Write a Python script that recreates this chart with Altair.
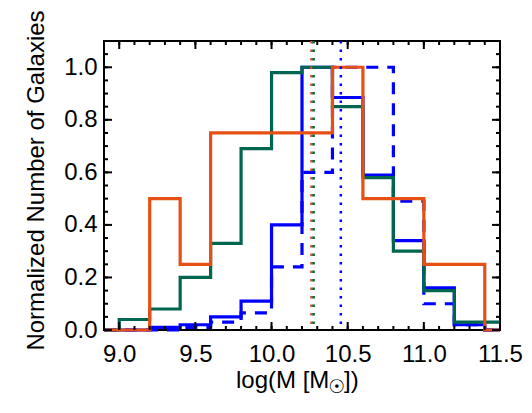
import altair as alt
import pandas as pd

# Bin edges (plot start, bins of 0.2 dex, plot end)
edges = [8.9, 9.0, 9.2, 9.4, 9.6, 9.8, 10.0, 10.2, 10.4, 10.6, 10.8, 11.0, 11.2, 11.4, 11.5]
green_vals = [0, 0.04, 0.08, 0.20, 0.33, 0.69, 0.98, 1.0, 0.85, 0.58, 0.30, 0.15, 0.03, 0.03, 0.03]
blue_vals = [0, 0, 0.01, 0.02, 0.05, 0.11, 0.40, 1.0, 0.885, 0.59, 0.34, 0.16, 0.02, 0, 0]
blue_dash_vals = [0, 0, 0, 0.01, 0.03, 0.065, 0.24, 0.60, 1.0, 1.0, 0.49, 0.10, 0.02, 0, 0]
orange_vals = [0, 0, 0.5, 0.25, 0.75, 0.75, 0.75, 0.75, 1.0, 0.5, 0.5, 0.25, 0.25, 0, 0]

median_names = ["orange", "green", "blue"]
median_vals = [10.262, 10.276, 10.455]

x_major = [9.0, 9.5, 10.0, 10.5, 11.0, 11.5]
x_minor = [round(8.9 + 0.1 * i, 1) for i in range(27)]
y_major = [0.0, 0.2, 0.4, 0.6, 0.8, 1.0]
y_minor = [round(0.05 * i, 2) for i in range(23)]

GREEN = "#00664F"
BLUE = "#0000FF"
ORANGE = "#E65014"
FONT = "Liberation Sans"

W, H = 396, 289
xs = alt.Scale(domain=[8.9, 11.5], nice=False, zero=False)
ys = alt.Scale(domain=[0, 1.1], nice=False, zero=False)

x_axis = alt.Axis(values=x_major, format=".1f", title=None, labelFlush=False,
                  labelOverlap=False, labelPadding=12, labelFontSize=24, labelFont=FONT,
                  labelColor="black", ticks=False, domain=False, grid=False)
y_axis = alt.Axis(values=y_major, format=".1f", title="Normalized Number of Galaxies",
                  labelFlush=False, labelOverlap=False, labelPadding=7, labelFontSize=24,
                  labelFont=FONT, labelColor="black", ticks=False, domain=False,
                  grid=False, titleFont=FONT, titleFontSize=24, titleFontWeight="normal",
                  titleColor="black", titleAngle=270, titleX=-61, titleY=139,
                  titleAlign="center", titleBaseline="alphabetic")


def hist(vals, color, dash=None):
    df = pd.DataFrame({"x": edges, "y": vals})
    kw = dict(interpolate="step-after", color=color, strokeWidth=3.2)
    if dash:
        kw["strokeDash"] = dash
    return alt.Chart(df).mark_line(**kw).encode(
        x=alt.X("x:Q", scale=xs, axis=x_axis),
        y=alt.Y("y:Q", scale=ys, axis=y_axis),
    )


layers = [
    hist(blue_dash_vals, BLUE, dash=[12, 9]),
    hist(blue_vals, BLUE),
    hist(green_vals, GREEN),
    hist(orange_vals, ORANGE),
]

med_df = pd.DataFrame({"name": median_names, "m": median_vals})
layers.append(
    alt.Chart(med_df).mark_rule(strokeDash=[2.5, 6], strokeWidth=2.5).encode(
        x=alt.X("m:Q", scale=xs, axis=x_axis),
        color=alt.Color("name:N", scale=alt.Scale(domain=median_names, range=[ORANGE, GREEN, BLUE]), legend=None),
    )
)


def xticks(vals, y0, y1):
    return alt.Chart(pd.DataFrame({"v": vals})).mark_rule(color="black", strokeWidth=2).encode(
        x=alt.X("v:Q", scale=xs, axis=x_axis), y=alt.value(y0), y2=alt.value(y1))


def yticks(vals, x0, x1):
    return alt.Chart(pd.DataFrame({"v": vals})).mark_rule(color="black", strokeWidth=2).encode(
        y=alt.Y("v:Q", scale=ys, axis=y_axis), x=alt.value(x0), x2=alt.value(x1))


layers += [
    xticks(x_minor, H, H - 4), xticks(x_major, H, H - 8),
    xticks(x_minor, 0, 4), xticks(x_major, 0, 8),
    yticks(y_minor, 0, 4), yticks(y_major, 0, 8),
    yticks(y_minor, W, W - 4), yticks(y_major, W, W - 8),
]

# x-axis title with subscript sun symbol
one = pd.DataFrame({"t": [""]})
layers += [
    alt.Chart(one).mark_text(text="log(M [M", font=FONT, fontSize=24, align="left",
                             baseline="alphabetic", color="black").encode(
        x=alt.value(132), y=alt.value(H + 58)),
    alt.Chart(one).mark_text(text="☉", font="DejaVu Sans", fontSize=19, align="center",
                             baseline="middle", color="black").encode(
        x=alt.value(233), y=alt.value(H + 57)),
    alt.Chart(one).mark_text(text="])", font=FONT, fontSize=24, align="left",
                             baseline="alphabetic", color="black").encode(
        x=alt.value(240), y=alt.value(H + 58)),
]

chart = alt.layer(*layers).properties(
    width=W, height=H,
    autosize=alt.AutoSizeParams(type="none"),
    padding={"left": 104, "top": 41, "right": 32, "bottom": 83},
    background="white",
).configure_view(stroke="black", strokeWidth=2)

chart.save("out.html", embed_options={"renderer": "svg", "actions": False})
